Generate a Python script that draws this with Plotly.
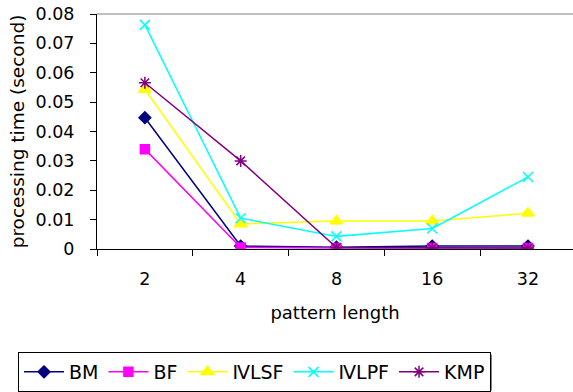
import plotly.graph_objects as go

categories = ["2", "4", "8", "16", "32"]
series_names = ["BM", "BF", "ⅣLSF", "ⅣLPF", "KMP"]
bm = [0.0447, 0.0010, 0.0006, 0.0010, 0.0010]
bf = [0.0340, 0.0005, 0.0003, 0.0003, 0.0003]
ivlsf = [0.0543, 0.0085, 0.0095, 0.0095, 0.0122]
ivlpf = [0.0763, 0.0105, 0.0043, 0.0070, 0.0245]
kmp = [0.0566, 0.0300, 0.0005, 0.0003, 0.0003]
y_ticks = [0, 0.01, 0.02, 0.03, 0.04, 0.05, 0.06, 0.07, 0.08]
y_tick_labels = ["0", "0.01", "0.02", "0.03", "0.04", "0.05", "0.06", "0.07", "0.08"]

values = [bm, bf, ivlsf, ivlpf, kmp]
colors = ["#000080", "#FF00FF", "#FFFF00", "#00FFFF", "#800080"]
symbols = ["diamond", "square", "triangle-up", "x-thin-open", "asterisk-open"]
sizes = [9, 9, 11, 10, 10]

FONT = "DejaVu Sans"

fig = go.Figure()
for name, vals, c, s, sz in zip(series_names, values, colors, symbols, sizes):
    fig.add_trace(go.Scatter(
        x=categories, y=vals, name=name, mode="lines+markers",
        line=dict(color=c, width=1.5),
        marker=dict(symbol=s, size=sz, color=c, line=dict(color=c, width=1.5)),
    ))

# plot area: x 97..573(+), y 14..250 px
W, H = 476, 236
def px_x(p):
    return (p - 97) / W
def px_y(p):
    return (250 - p) / H

fig.update_layout(
    width=573, height=392,
    margin=dict(l=97, r=0, t=14, b=142, pad=0),
    paper_bgcolor="white", plot_bgcolor="white",
    font=dict(family=FONT, size=18, color="black"),
    showlegend=True,
    legend=dict(
        orientation="h", x=px_x(18), y=px_y(354), xanchor="left", yanchor="top",
        bordercolor="black", borderwidth=1, bgcolor="white",
        font=dict(family=FONT, size=19), itemwidth=40, tracegroupgap=0,
    ),
    xaxis=dict(
        type="category", range=[-0.5, 4.47],
        showline=True, linecolor="black", linewidth=1,
        ticks="outside", tickson="boundaries", ticklen=6, tickcolor="black",
        ticklabelstandoff=14, tickfont=dict(size=17.5),
        showgrid=False, zeroline=False,
        title=dict(text="pattern length", font=dict(size=18), standoff=18),
    ),
    yaxis=dict(
        range=[0, 0.08], tickvals=y_ticks, ticktext=y_tick_labels,
        showline=True, linecolor="black", linewidth=1,
        ticks="outside", ticklen=6, tickcolor="black",
        ticklabelstandoff=12, tickfont=dict(size=17.5),
        showgrid=False, zeroline=False,
        title=dict(text="processing time (second)", font=dict(size=18.5), standoff=6),
    ),
    shapes=[
        dict(type="line", xref="paper", yref="paper", x0=0, x1=1, y0=1, y1=1,
             line=dict(color="#808080", width=1)),
        dict(type="rect", xref="paper", yref="paper",
             x0=px_x(21), x1=px_x(492), y0=px_y(356), y1=px_y(392),
             fillcolor="#808080", line=dict(width=0), layer="below"),
    ],
)

fig.write_html("out.html")
